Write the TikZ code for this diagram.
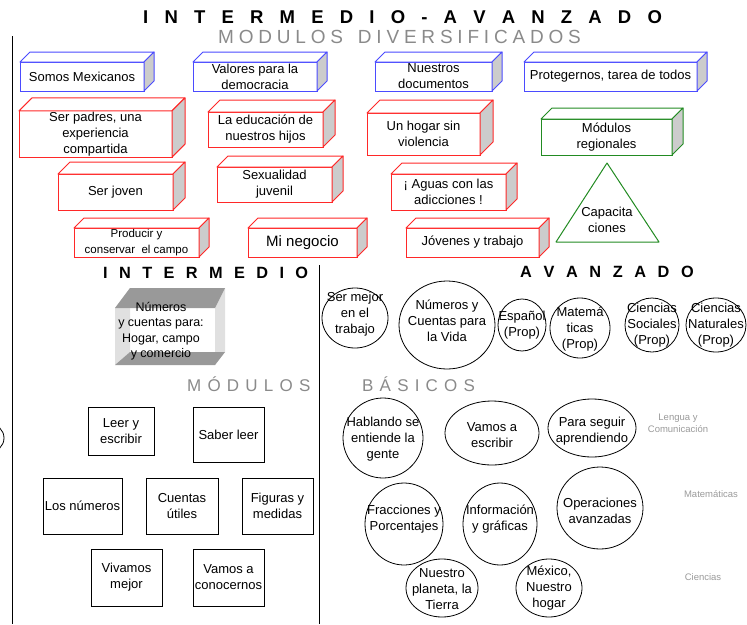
\documentclass[tikz,border=0pt]{standalone}
\usepackage{fontspec}
\setmainfont{Liberation Sans}
\usetikzlibrary{shapes.geometric}
\definecolor{bxblue}{HTML}{4B4BFF}
\definecolor{bxred}{HTML}{FF2828}
\definecolor{bxgreen}{HTML}{228B22}
\definecolor{sidegray}{HTML}{CCCCCC}
\definecolor{headgray}{HTML}{8A8A8A}
\definecolor{labgray}{HTML}{9A9A9A}
\definecolor{cubedark}{HTML}{999999}
\definecolor{cubelight}{HTML}{E0E0E0}
\newcommand{\gA}{\hspace{16.2pt}}
\newcommand{\gB}{\hspace{4.8pt}}
\newcommand{\gC}{\hspace{11.4pt}}
\newcommand{\gD}{\hspace{11.6pt}}
\newcommand{\gE}{\hspace{6.2pt}}
\newcommand{\bluefont}{\fontsize{13}{14.5}\selectfont}
\tikzset{
  front3d/.style={rectangle, line width=1pt, fill=white, inner sep=1pt, outer sep=0pt, align=center, font=\fontsize{13}{16}\selectfont},
  plainbox/.style={rectangle, draw, line width=0.8pt, inner sep=1pt, outer sep=0pt, align=center, font=\fontsize{13}{16}\selectfont},
  oval/.style={ellipse, draw, line width=0.8pt, inner sep=0pt, outer sep=0pt},
  ovaltext/.style={inner sep=0pt, align=center, font=\fontsize{13}{16}\selectfont},
  sidelab/.style={inner sep=0pt, align=center, text=labgray, font=\fontsize{9.5}{12}\selectfont},
  bighead/.style={inner sep=0pt, anchor=base west, font=\bfseries\fontsize{18.5}{20}\selectfont},
  midhead/.style={inner sep=0pt, anchor=base west, font=\bfseries\fontsize{16.3}{18}\selectfont},
  grayhead/.style={inner sep=0pt, anchor=base west, text=headgray},
}
% name, x1, y1, x2, y2, depth, colour, text
\newcommand{\tdbox}[8]{%
  \node[front3d, draw=#7, minimum width={(#4-#2)*1pt}, minimum height={(#5-#3)*1pt}] (#1) at ({(#2+#4)/2},{(#3+#5)/2}) {#8};
  \draw[draw=#7, line width=1pt, fill=white, line join=round] (#1.north west) -- ++(#6,-#6) -- ([shift={(#6,-#6)}]#1.north east) -- (#1.north east) -- cycle;
  \draw[draw=#7, line width=1pt, fill=sidegray, line join=round] (#1.north east) -- ++(#6,-#6) -- ([shift={(#6,-#6)}]#1.south east) -- (#1.south east) -- cycle;
}
\newcommand{\rectnode}[6]{%
  \node[plainbox, minimum width={(#4-#2)*1pt}, minimum height={(#5-#3)*1pt}] (#1) at ({(#2+#4)/2},{(#3+#5)/2}) {#6};
}
% name, cx, cy, rx, ry, text y, text
\newcommand{\ovalnode}[7]{%
  \node[oval, minimum width={2*#4*1pt}, minimum height={2*#5*1pt}] (#1) at (#2,#3) {};
  \node[ovaltext] (#1t) at (#2,#6) {#7};
}
\begin{document}
\begin{tikzpicture}[x=1pt, y=-1pt]
\useasboundingbox (0,0) rectangle (747,624);

% headings
\node[bighead] (title) at (143,23.5) {I\gA N\gA T\gA E\gA R\gA M\gA E\gA D\gA I\gA O\gA -\gA A\gA V\gA A\gA N\gA Z\gA A\gA D\gA O};
\node[grayhead, font=\fontsize{19}{21}\selectfont] (subtitle) at (218,43) {M\gB O\gB D\gB U\gB L\gB O\gB S\gB\ \gB D\gB I\gB V\gB E\gB R\gB S\gB I\gB F\gB I\gB C\gB A\gB D\gB O\gB S};
\node[midhead] (hinter) at (103,278) {I\gC N\gC T\gC E\gC R\gC M\gC E\gC D\gC I\gC O};
\node[midhead] (havan) at (520,277) {A\gD V\gD A\gD N\gD Z\gD A\gD D\gD O};
\node[grayhead, font=\fontsize{17}{19}\selectfont] (hmod) at (187,391) {M\gE Ó\gE D\gE U\gE L\gE O\gE S};
\node[grayhead, font=\fontsize{17}{19}\selectfont] (hbas) at (362,391) {B\gE Á\gE S\gE I\gE C\gE O\gE S};

% dividing lines
\coordinate (ltop) at (12,36);
\coordinate (lbot) at (12,624);
\coordinate (mtop) at (319,265);
\coordinate (mbot) at (319,624);
\draw[line width=0.9pt] (ltop) -- (lbot);
\draw[line width=0.9pt] (mtop) -- (mbot);
\node[ellipse, draw, line width=0.8pt, minimum width=28pt, minimum height=28pt, inner sep=0pt] (edgecirc) at (-10,438) {};

% blue boxes
\tdbox{somos}{20}{62}{144}{91}{10}{bxblue}{Somos Mexicanos}
\tdbox{valores}{193}{62}{317}{91}{10}{bxblue}{\bluefont Valores para la\\\bluefont democracia}
\tdbox{nuestros}{375}{62}{492}{91}{10}{bxblue}{\bluefont Nuestros\\\bluefont documentos}
\tdbox{proteg}{524}{62}{697}{91}{10}{bxblue}{Protegernos, tarea de todos}

% red boxes
\tdbox{padres}{19}{113}{172}{155}{13}{bxred}{Ser padres, una\\experiencia\\compartida}
\tdbox{educ}{208}{112}{323}{147}{12}{bxred}{La educación de\\nuestros hijos}
\tdbox{hogar}{367}{113}{480}{155}{13}{bxred}{Un hogar sin\\violencia}
\tdbox{joven}{58}{174}{173}{210}{12}{bxred}{Ser joven}
\tdbox{sexual}{217}{167}{332}{202}{11}{bxred}{Sexualidad\\juvenil}
\tdbox{aguas}{391}{174}{506}{210}{11}{bxred}{¡ Aguas con las\\adicciones !}
\tdbox{producir}{74}{228}{199}{257}{10}{bxred}{\fontsize{11.5}{14}\selectfont Producir y\\\fontsize{11.5}{14}\selectfont conservar\ \ el campo}
\tdbox{negocio}{248}{228}{357}{257}{10}{bxred}{\fontsize{15}{17}\selectfont Mi negocio}
\tdbox{jovenes}{406}{228}{539}{257}{10}{bxred}{Jóvenes y trabajo}

% green
\tdbox{regional}{541}{119}{672}{155}{11}{bxgreen}{Módulos\\regionales}
\coordinate (tria) at (607,163);
\coordinate (tril) at (556,242);
\coordinate (trir) at (659,242);
\draw[bxgreen, line width=1pt, line join=round] (tril) -- (tria) -- (trir) -- cycle;
\node[ovaltext] (capac) at (607,220) {Capacita\\ciones};

% grey open cube
\fill[white] (130,288) rectangle (225,352);
\fill[cubelight] (115,308) -- (130,288) -- (130,352) -- (115,365) -- cycle;
\fill[cubelight] (215,308) -- (225,288) -- (225,352) -- (215,365) -- cycle;
\fill[cubedark] (115,308) -- (130,288) -- (225,288) -- (215,308) -- cycle;
\fill[cubedark] (115,365) -- (130,352) -- (225,352) -- (215,365) -- cycle;
\node[inner sep=0pt, align=center, font=\fontsize{12.5}{15.5}\selectfont] (numbox) at (161,331) {Números\\y cuentas para:\\Hogar, campo\\y comercio};

% intermediate basic modules
\rectnode{leer}{88}{407}{154}{455}{Leer y\\escribir}
\rectnode{saber}{193}{407}{264}{462}{Saber leer}
\rectnode{losnum}{43}{478}{122}{534}{Los números}
\rectnode{cuentas}{146}{478}{218}{534}{Cuentas\\útiles}
\rectnode{figuras}{242}{478}{313}{534}{Figuras y\\medidas}
\rectnode{vivamos}{91}{549}{162}{606}{Vivamos\\mejor}
\rectnode{conocer}{193}{549}{264}{606}{Vamos a\\conocernos}

% advanced circles
\ovalnode{sermejor}{355}{318}{33}{30}{314}{Ser mejor\\en el\\trabajo}
\ovalnode{numvida}{447}{325}{48}{44}{321}{Números y\\Cuentas para\\la Vida}
\ovalnode{espanol}{522}{325}{24}{26}{325}{Español\\(Prop)}
\ovalnode{matem}{580}{328}{30}{30}{329}{Matemá\\ticas\\(Prop)}
\ovalnode{csoc}{652}{325}{27}{27}{325}{Ciencias\\Sociales\\(Prop)}
\ovalnode{cnat}{716}{325}{30}{27}{325}{Ciencias\\Naturales\\(Prop)}

\ovalnode{hablando}{383}{438}{40}{40}{439}{Hablando se\\entiende la\\gente}
\ovalnode{escribir}{492}{433}{47}{32}{435}{Vamos a\\escribir}
\ovalnode{seguir}{592}{428}{44}{29}{431}{Para seguir\\aprendiendo}
\ovalnode{fracc}{404}{524}{39}{41}{519}{Fracciones y\\Porcentajes}
\ovalnode{inform}{500}{524}{37}{41}{519}{Información\\y gráficas}
\ovalnode{operac}{600}{508}{43}{41}{511}{Operaciones\\avanzadas}
\ovalnode{planeta}{442}{588}{36}{29}{589}{Nuestro\\planeta, la\\Tierra}
\ovalnode{mexico}{549}{588}{33}{29}{588}{México,\\Nuestro\\hogar}

% side labels
\node[sidelab] (lengua) at (678,423) {Lengua y\\Comunicación};
\node[sidelab] (matelab) at (711,494) {Matemáticas};
\node[sidelab] (cienlab) at (703,577) {Ciencias};
\end{tikzpicture}
\end{document}
